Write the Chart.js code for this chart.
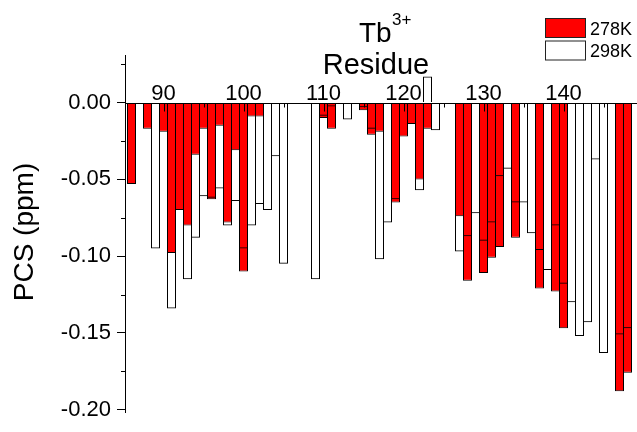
<!DOCTYPE html>
<html>
<head>
<meta charset="utf-8">
<script src="https://cdn.jsdelivr.net/npm/chart.js@4.4.0/dist/chart.umd.min.js"></script>
<style>
  html, body { margin: 0; padding: 0; background: #fff; }
</style>
</head>
<body>
<canvas id="pcsChart" width="637" height="432"></canvas>
<script>
// residue numbers and pseudocontact shifts (ppm) at the two temperatures
const residues = [
  86, 87, 88, 89, 90, 91, 92, 93, 94, 95, 96, 97, 98, 99, 100, 101, 102, 103, 104, 105,
  106, 107, 108, 109, 110, 111, 112, 113, 114, 115, 116, 117, 118, 119, 120, 121, 122, 123, 124, 125,
  126, 127, 128, 129, 130, 131, 132, 133, 134, 135, 136, 137, 138, 139, 140, 141, 142, 143, 144, 145,
  146, 147, 148
];
const pcs278 = [
  -0.053, null, -0.017, null, -0.019, -0.098, -0.070, -0.080, -0.034, -0.017, -0.063, -0.015, -0.078, -0.031, -0.110, -0.009, -0.009, null, null, null,
  null, null, null, null, -0.010, -0.017, null, null, null, -0.005, -0.021, -0.019, null, -0.065, -0.022, -0.014, -0.050, -0.017, null, null,
  null, -0.074, -0.116, null, -0.111, -0.101, -0.094, null, -0.088, null, null, -0.121, null, -0.123, -0.147, null, null, null, null, null,
  null, -0.188, -0.176
];
const pcs298 = [
  null, null, null, -0.095, null, -0.134, null, -0.115, -0.088, -0.061, -0.062, -0.056, -0.080, -0.064, -0.095, -0.080, -0.066, -0.070, -0.035, -0.105,
  null, null, null, -0.115, -0.0085, -0.0025, null, -0.011, null, -0.003, -0.017, -0.102, -0.078, -0.063, null, null, -0.057, 0.017, -0.018, null,
  null, -0.097, -0.087, -0.072, -0.090, -0.078, -0.048, -0.043, -0.065, -0.065, -0.085, -0.096, -0.109, -0.080, -0.118, -0.130, -0.152, -0.143, -0.037, -0.163,
  null, -0.151, -0.147
];
const xMajorTicks = [90, 100, 110, 120, 130, 140];
const xMinorTicks = [95, 105, 115, 125, 135, 145];
const yMajorTicks = [0, -0.05, -0.10, -0.15, -0.20];
const yMinorTicks = [0.025, -0.025, -0.075, -0.125, -0.175];

const FONT = '"Liberation Sans", Arial, sans-serif';

function toPoints(values) {
  return residues.map((r, i) => ({ x: r, y: values[i] }));
}

// x axis sits on the zero line with labels above it, plus titles and legend
const decorations = {
  id: 'decorations',
  afterDatasetsDraw(chart) {
    const { ctx, chartArea, scales: { x, y } } = chart;
    const y0 = Math.round(y.getPixelForValue(0)) + 0.5;

    ctx.save();
    ctx.strokeStyle = '#000';
    ctx.lineWidth = 1;
    ctx.beginPath();
    ctx.moveTo(chartArea.left, y0);
    ctx.lineTo(chartArea.right, y0);
    xMajorTicks.forEach(v => {
      const px = Math.round(x.getPixelForValue(v)) + 0.5;
      ctx.moveTo(px, y0);
      ctx.lineTo(px, y0 + 8);
    });
    xMinorTicks.forEach(v => {
      const px = Math.round(x.getPixelForValue(v)) + 0.5;
      ctx.moveTo(px, y0);
      ctx.lineTo(px, y0 + 4);
    });
    yMinorTicks.forEach(v => {
      const py = Math.round(y.getPixelForValue(v)) + 0.5;
      ctx.moveTo(chartArea.left - 4, py);
      ctx.lineTo(chartArea.left, py);
    });
    ctx.stroke();

    ctx.fillStyle = '#000';
    ctx.font = '22px ' + FONT;
    ctx.textAlign = 'center';
    ctx.textBaseline = 'alphabetic';
    xMajorTicks.forEach(v => ctx.fillText(String(v), x.getPixelForValue(v), y0 - 4));

    // axis titles
    ctx.textAlign = 'left';
    ctx.font = '28px ' + FONT;
    ctx.fillText('Tb', 359, 42);
    ctx.font = '17px ' + FONT;
    ctx.fillText('3+', 392, 25);
    ctx.textAlign = 'center';
    ctx.font = '29px ' + FONT;
    ctx.fillText('Residue', 376, 74);

    ctx.save();
    ctx.translate(33, 232);
    ctx.rotate(-Math.PI / 2);
    ctx.font = '28px ' + FONT;
    ctx.fillText('PCS (ppm)', 0, 0);
    ctx.restore();

    // legend
    ctx.textAlign = 'left';
    ctx.font = '18px ' + FONT;
    chart.data.datasets.forEach((ds, i) => {
      const top = 18.5 + i * 22.5;
      ctx.fillStyle = ds.legendFill;
      ctx.fillRect(545.5, top, 40, 19);
      ctx.strokeStyle = '#222';
      ctx.strokeRect(545.5, top, 40, 19);
      ctx.fillStyle = '#000';
      ctx.fillText(ds.label, 590, top + 16);
    });
    ctx.restore();
  }
};

new Chart(document.getElementById('pcsChart'), {
  type: 'bar',
  data: {
    datasets: [
      {
        label: '278K',
        data: toPoints(pcs278),
        backgroundColor: '#ff0000',
        borderColor: '#000',
        borderWidth: 1,
        legendFill: '#ff0000',
        order: 1
      },
      {
        label: '298K',
        data: toPoints(pcs298),
        backgroundColor: 'rgba(255,255,255,0)',
        borderColor: '#000',
        borderWidth: 1,
        legendFill: '#ffffff',
        order: 0
      }
    ]
  },
  options: {
    responsive: false,
    animation: false,
    grouped: false,
    barPercentage: 1.125,
    categoryPercentage: 1,
    inflateAmount: 0,
    layout: { padding: { top: 55, bottom: 6, left: 0, right: 0 } },
    plugins: {
      legend: { display: false },
      tooltip: { enabled: false }
    },
    scales: {
      x: {
        type: 'linear',
        min: 85.1875,
        max: 149.1875,
        offset: false,
        display: false
      },
      y: {
        min: -0.202,
        max: 0.031,
        afterBuildTicks: (scale) => { scale.ticks = yMajorTicks.map(v => ({ value: v })); },
        afterFit: (scale) => { scale.width = 125; },
        ticks: {
          callback: (v) => v.toFixed(2),
          font: { family: FONT, size: 22 },
          color: '#000',
          padding: 6
        },
        grid: { drawOnChartArea: false, tickLength: 8, tickColor: '#000', tickWidth: 1 },
        border: { color: '#000', width: 1 }
      }
    }
  },
  plugins: [decorations]
});
</script>
</body>
</html>
